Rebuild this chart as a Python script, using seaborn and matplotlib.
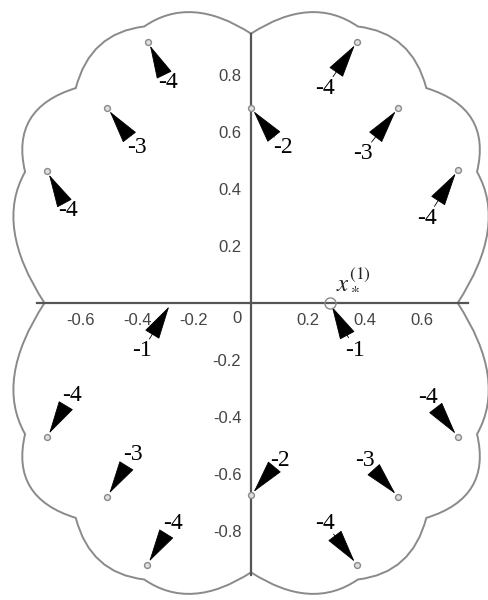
import matplotlib
matplotlib.use('Agg')
import matplotlib.pyplot as plt
import seaborn as sns
from matplotlib.path import Path
from matplotlib.patches import PathPatch
from matplotlib.ticker import MultipleLocator, FixedLocator

sns.set_style('white')
plt.rcParams['font.family'] = ['Liberation Sans', 'DejaVu Sans']
plt.rcParams['mathtext.fontset'] = 'stix'

# basin boundary, upper right quarter (arc end points + control points)
arc_ends = [(0.0, 0.945), (0.375, 0.97), (0.615, 0.754), (0.793, 0.46), (0.725, 0.0)]
arc_ctrl = [(0.2125, 1.0825), (0.565, 0.948), (0.846, 0.683), (0.901, 0.27)]

# preimage points and their labels
pre_x = [-0.361, -0.505, -0.716, 0.0, 0.372, 0.516, 0.726,
         -0.716, -0.505, -0.365, 0.726, 0.516, 0.372, 0.0]
pre_y = [0.916, 0.684, 0.463, 0.684, 0.916, 0.684, 0.467,
         -0.470, -0.680, -0.919, -0.470, -0.680, -0.919, -0.674]
pre_lab = ['-4', '-3', '-4', '-2', '-4', '-3', '-4',
           '-4', '-3', '-4', '-4', '-3', '-4', '-2']
lab_x = [-0.291, -0.400, -0.642, 0.112, 0.260, 0.393, 0.617,
         -0.628, -0.414, -0.274, 0.621, 0.400, 0.260, 0.102]
lab_y = [0.772, 0.547, 0.326, 0.544, 0.754, 0.526, 0.298,
         -0.323, -0.533, -0.772, -0.333, -0.551, -0.772, -0.551]

# first preimages on the real axis
one_x = [-0.28, 0.277]
one_lab_x = [-0.382, 0.365]
one_lab_y = [-0.168, -0.165]
fixed_x, fixed_y = 0.277, 0.0

xticks = [-0.6, -0.4, -0.2, 0.2, 0.4, 0.6]
yticks = [-0.8, -0.6, -0.4, -0.2, 0.2, 0.4, 0.6, 0.8]

fig = plt.figure(figsize=(4.89, 6.0), dpi=100)
ax = fig.add_axes([0, 0, 1, 1])
ax.set_xlim(-0.881, 0.835)
ax.set_ylim(-1.042, 1.063)

# boundary curve, mirrored into the four quadrants
for sx, sy in [(1, 1), (-1, 1), (1, -1), (-1, -1)]:
    verts = [(sx * arc_ends[0][0], sy * arc_ends[0][1])]
    codes = [Path.MOVETO]
    for c, e in zip(arc_ctrl, arc_ends[1:]):
        verts += [(sx * c[0], sy * c[1]), (sx * e[0], sy * e[1])]
        codes += [Path.CURVE3, Path.CURVE3]
    ax.add_patch(PathPatch(Path(verts, codes), fill=False, edgecolor='#8a8a8a', lw=1.4))

# axes through origin
for s in ['top', 'right']:
    ax.spines[s].set_visible(False)
ax.spines['bottom'].set_position(('data', 0))
ax.spines['left'].set_position(('data', 0))
ax.spines['bottom'].set_bounds(-0.75, 0.76)
ax.spines['left'].set_bounds(-0.955, 0.945)
for s in ['bottom', 'left']:
    ax.spines[s].set_color('#555555')
    ax.spines[s].set_linewidth(1.6)
ax.xaxis.set_major_locator(FixedLocator(xticks))
ax.yaxis.set_major_locator(FixedLocator(yticks))
ax.xaxis.set_minor_locator(MultipleLocator(0.02))
ax.yaxis.set_minor_locator(MultipleLocator(0.02))
ax.set_xticklabels([f'{v:g}' for v in xticks])
ax.set_yticklabels([f'{v:g}' for v in yticks])
ax.tick_params(which='major', direction='out', length=4, width=1, color='#555555',
               labelsize=12, labelcolor='#444444', pad=3)
ax.tick_params(which='minor', direction='inout', length=3.5, width=1, color='#666666')
ax.text(-0.049, -0.053, '0', ha='center', va='center', fontsize=12, color='#444444')

arrow = dict(arrowstyle='-|>,head_length=2.2,head_width=0.55',
             color='black', lw=0.6, shrinkA=10, shrinkB=3, mutation_scale=10)

# arrows to the preimages
for px, py, t, lx, ly in zip(pre_x, pre_y, pre_lab, lab_x, lab_y):
    ax.annotate('', xy=(px, py), xytext=(lx, ly), arrowprops=arrow)
    ax.text(lx, ly, t, ha='center', va='center', fontsize=17,
            family='Liberation Serif', color='black')

for ox, lx, ly in zip(one_x, one_lab_x, one_lab_y):
    ax.annotate('', xy=(ox, 0.0), xytext=(lx, ly), arrowprops=arrow)
    ax.text(lx, ly, '-1', ha='center', va='center', fontsize=17,
            family='Liberation Serif', color='black')

sns.scatterplot(x=pre_x, y=pre_y, ax=ax, s=18, color='#e0e0e0',
                edgecolor='#8a8a8a', linewidth=1, zorder=5)
ax.plot([fixed_x], [fixed_y], 'o', ms=8, mfc='none', mec='#8a8a8a', mew=1, zorder=5)
ax.text(0.36, 0.08, r'$x_*^{(1)}$', ha='center', va='center', fontsize=18, color='#222222')

fig.savefig('out.png', dpi=100)
